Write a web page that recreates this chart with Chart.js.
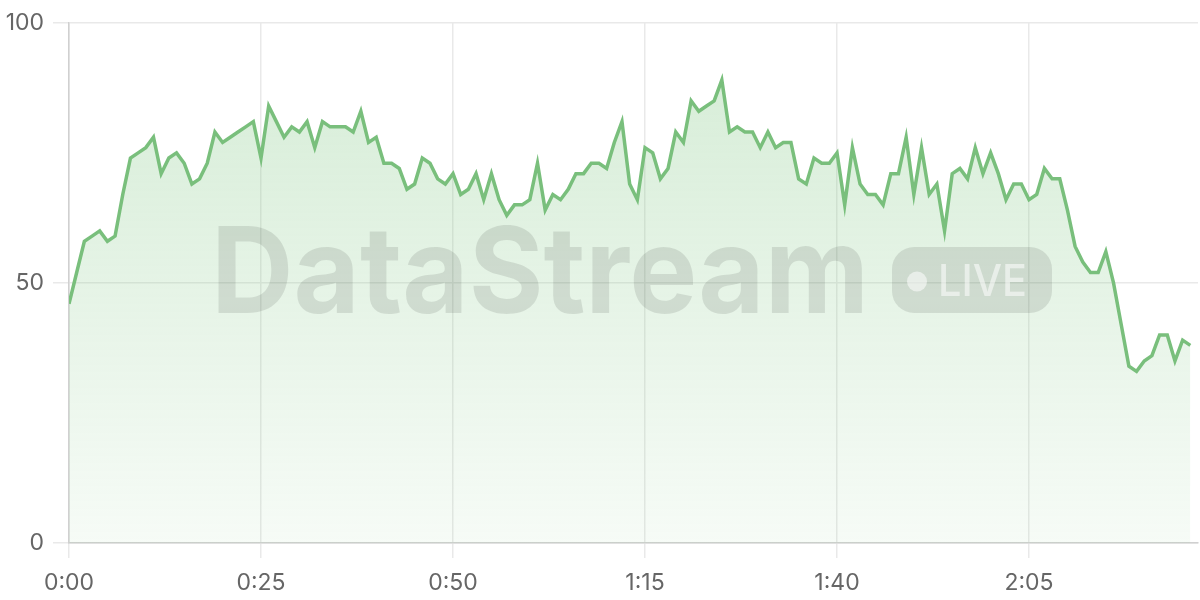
<!DOCTYPE html>
<html>
<head>
<meta charset="utf-8">
<script src="https://cdn.jsdelivr.net/npm/chart.js@4"></script>
<style>
html,body{margin:0;padding:0;background:#fff;}
#wrap{width:1200px;height:600px;position:relative;}
</style>
</head>
<body>
<div id="wrap"><canvas id="c" width="1200" height="600"></canvas></div>
<script>
// One reading per second, starting at 0:00
const values = [
  46,52,58,59,60,58,59,67,74,75,
  76,78,71,74,75,73,69,70,73,79,
  77,78,79,80,81,74,84,81,78,80,
  79,81,76,81,80,80,80,79,83,77,
  78,73,73,72,68,69,74,73,70,69,
  71,67,68,71,66,71,66,63,65,65,
  66,73,64,67,66,68,71,71,73,73,
  72,77,81,69,66,76,75,70,72,79,
  77,85,83,84,85,89,79,80,79,79,
  76,79,76,77,77,70,69,74,73,73,
  75,65,76,69,67,67,65,71,71,78,
  67,76,67,69,60,71,72,70,76,71,
  75,71,66,69,69,66,67,72,70,70,
  64,57,54,52,52,56,50,42,34,33,
  35,36,40,40,35,39,38
];
const xTickValues = [0, 25, 50, 75, 100, 125];
const yTickValues = [0, 50, 100];
const watermarkText = 'DataStream';
const badgeText = 'LIVE';

const points = values.map((v, i) => ({x: i, y: v}));

function fmtTime(s){
  const m = Math.floor(s/60), r = s % 60;
  return m + ':' + String(r).padStart(2,'0');
}

const watermark = {
  id: 'watermark',
  afterDatasetsDraw(chart){
    const ctx = chart.ctx;
    ctx.save();
    ctx.fillStyle = 'rgba(0,0,0,0.1)';
    ctx.textBaseline = 'alphabetic';
    ctx.textAlign = 'left';
    let size = 120;
    ctx.font = '700 ' + size + 'px Inter';
    const w = ctx.measureText(watermarkText).width;
    const targetW = 658;
    ctx.save();
    ctx.translate(211, 313);
    ctx.scale(targetW / w, 1);
    ctx.fillText(watermarkText, 0, 0);
    ctx.restore();
    const px = 892, py = 247, pw = 160, ph = 66, r = 22;
    ctx.beginPath();
    ctx.moveTo(px + r, py);
    ctx.arcTo(px + pw, py, px + pw, py + ph, r);
    ctx.arcTo(px + pw, py + ph, px, py + ph, r);
    ctx.arcTo(px, py + ph, px, py, r);
    ctx.arcTo(px, py, px + pw, py, r);
    ctx.closePath();
    ctx.fill();
    ctx.fillStyle = 'rgba(255,255,255,0.55)';
    ctx.beginPath();
    ctx.arc(917, 281.5, 10, 0, Math.PI*2);
    ctx.fill();
    ctx.font = '500 44px Inter';
    const lw = ctx.measureText(badgeText).width;
    ctx.save();
    ctx.translate(938, 296);
    ctx.scale(89 / lw, 1);
    ctx.fillText(badgeText, 0, 0);
    ctx.restore();
    ctx.restore();
  }
};

const ctx = document.getElementById('c').getContext('2d');
const grad = ctx.createLinearGradient(0, 20, 0, 543);
grad.addColorStop(0, 'rgba(129,199,132,0.34)');
grad.addColorStop(1, 'rgba(129,199,132,0.07)');

new Chart(ctx, {
  type: 'line',
  data: {
    datasets: [{
      data: points,
      borderColor: '#79bf7c',
      borderWidth: 3.5,
      backgroundColor: grad,
      fill: 'origin',
      pointRadius: 0,
      tension: 0,
      borderJoinStyle: 'miter'
    }]
  },
  options: {
    responsive: false,
    animation: false,
    layout: {padding: {top: 4, right: 2, left: 0, bottom: 0}},
    plugins: {legend: {display: false}, tooltip: {enabled: false}},
    scales: {
      x: {
        type: 'linear',
        min: 0,
        max: 147,
        afterBuildTicks(scale){ scale.ticks = xTickValues.map(v => ({value: v})); },
        afterFit(scale){ scale.height = 57; },
        ticks: {
          callback: v => fmtTime(v),
          color: '#666',
          font: {family: 'Inter', size: 23},
          padding: 11,
          maxRotation: 0,
          autoSkip: false
        },
        grid: {color: '#e9e9e9', tickLength: 15, lineWidth: 1.5},
        border: {color: '#d0d0d0', width: 1.5}
      },
      y: {
        min: 0,
        max: 100,
        afterBuildTicks(scale){ scale.ticks = yTickValues.map(v => ({value: v})); },
        afterFit(scale){ scale.width = 69; },
        ticks: {
          color: '#666',
          font: {family: 'Inter', size: 23},
          padding: 9
        },
        grid: {color: '#e9e9e9', tickLength: 16, lineWidth: 1.5},
        border: {color: '#d0d0d0', width: 1.5}
      }
    }
  },
  plugins: [watermark]
});
</script>
</body>
</html>
